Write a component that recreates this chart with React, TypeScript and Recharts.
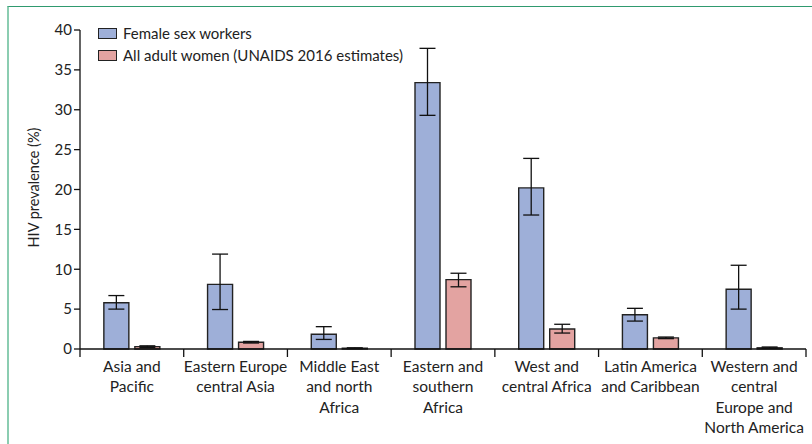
import React from 'react';
import { BarChart, Bar, XAxis, YAxis, ErrorBar } from 'recharts';

const categories = [
  'Asia and\nPacific',
  'Eastern Europe\ncentral Asia',
  'Middle East\nand north\nAfrica',
  'Eastern and\nsouthern\nAfrica',
  'West and\ncentral Africa',
  'Latin America\nand Caribbean',
  'Western and\ncentral\nEurope and\nNorth America',
];

const fswPrevalence = [5.8, 8.1, 1.85, 33.4, 20.2, 4.3, 7.5];
const fswLower = [5.0, 4.95, 1.2, 29.3, 16.8, 3.5, 5.0];
const fswUpper = [6.7, 11.9, 2.8, 37.7, 23.9, 5.1, 10.5];

const womenPrevalence = [0.3, 0.85, 0.1, 8.7, 2.5, 1.4, 0.15];
const womenLower = [0.2, 0.75, 0.05, 7.8, 2.0, 1.3, 0.1];
const womenUpper = [0.4, 0.95, 0.15, 9.5, 3.1, 1.5, 0.25];

const yTicks = [0, 5, 10, 15, 20, 25, 30, 35, 40];

const seriesNames = ['Female sex workers', 'All adult women (UNAIDS 2016 estimates)'];
const colors = ['#9eafd8', '#e3a3a1'];

const FONT = 'Lato, "Open Sans", sans-serif';
const TEXT = '#222';

const chartData = categories.map((name, i) => ({
  name,
  fsw: fswPrevalence[i],
  fswErr: [fswPrevalence[i] - fswLower[i], fswUpper[i] - fswPrevalence[i]],
  women: womenPrevalence[i],
  womenErr: [womenPrevalence[i] - womenLower[i], womenUpper[i] - womenPrevalence[i]],
}));

const WIDTH = 812;
const HEIGHT = 444;
const MARGIN = { top: 30, right: 6, bottom: 15, left: 0 };
const Y_WIDTH = 80;
const BAND = (WIDTH - MARGIN.left - MARGIN.right - Y_WIDTH) / categories.length;

function CategoryTick(props: any) {
  const { x, y, payload, index } = props;
  const lines = String(payload.value).split('\n');
  const left = x - BAND / 2;
  const right = x + BAND / 2;
  const axisY = y - 8;
  return (
    <g>
      <line x1={left} x2={left} y1={axisY} y2={axisY + 8} stroke="#111" strokeWidth={1.3} />
      {index === categories.length - 1 && (
        <line x1={right} x2={right} y1={axisY} y2={axisY + 8} stroke="#111" strokeWidth={1.3} />
      )}
      <text x={x} y={axisY + 18} textAnchor="middle" fill={TEXT} fontSize={15.5} fontFamily={FONT}>
        {lines.map((l, i) => (
          <tspan key={i} x={x} dy={i === 0 ? 5 : 20.3}>
            {l}
          </tspan>
        ))}
      </text>
    </g>
  );
}

function LegendBox() {
  return (
    <div
      style={{
        position: 'absolute',
        left: 98,
        top: 22,
        fontFamily: FONT,
        fontSize: 15,
        color: TEXT,
        lineHeight: '22px',
        zIndex: 2,
      }}
    >
      {seriesNames.map((n, i) => (
        <div key={n} style={{ display: 'flex', alignItems: 'center' }}>
          <span
            style={{
              display: 'inline-block',
              width: 17,
              height: 9,
              background: colors[i],
              border: '1.3px solid #222',
              marginRight: 6,
            }}
          />
          {n}
        </div>
      ))}
    </div>
  );
}

function YLabel(props: any) {
  const { viewBox } = props;
  const cx = viewBox.x + 33;
  const cy = viewBox.y + viewBox.height / 2 - 2;
  return (
    <text
      x={cx}
      y={cy}
      transform={`rotate(-90, ${cx}, ${cy})`}
      textAnchor="middle"
      dominantBaseline="central"
      fill={TEXT}
      fontSize={14.5}
      fontFamily={FONT}
    >
      HIV prevalence (%)
    </text>
  );
}

export default function App() {
  return (
    <div
      style={{
        position: 'absolute',
        left: 0,
        top: 0,
        width: WIDTH,
        height: HEIGHT,
        background: '#fff',
      }}
    >
      <div
        style={{
          position: 'absolute',
          left: 7,
          top: 6,
          right: 0,
          bottom: 0,
          borderTop: '1.5px solid #2f9a6f',
          borderLeft: '2px solid #8bcdb1',
        }}
      />
      <BarChart
        width={WIDTH}
        height={HEIGHT}
        data={chartData}
        margin={MARGIN}
        barCategoryGap="23%"
        barGap={6}
        style={{ position: 'absolute', left: 0, top: 0 }}
      >
        <XAxis
          dataKey="name"
          interval={0}
          height={80}
          tickLine={false}
          axisLine={{ stroke: '#111', strokeWidth: 1.3 }}
          tick={<CategoryTick />}
        />
        <YAxis
          width={Y_WIDTH}
          domain={[0, 40]}
          ticks={yTicks}
          interval={0}
          tickSize={6}
          tickLine={{ stroke: '#111', strokeWidth: 1.3 }}
          axisLine={{ stroke: '#111', strokeWidth: 1.3 }}
          tick={{ fill: TEXT, fontSize: 15, fontFamily: FONT }}
          label={<YLabel />}
        />
        <Bar
          dataKey="fsw"
          name={seriesNames[0]}
          fill={colors[0]}
          stroke="#222"
          strokeWidth={1.4}
          isAnimationActive={false}
        >
          <ErrorBar dataKey="fswErr" width={8} stroke="#111" strokeWidth={1.3} />
        </Bar>
        <Bar
          dataKey="women"
          name={seriesNames[1]}
          fill={colors[1]}
          stroke="#222"
          strokeWidth={1.4}
          isAnimationActive={false}
        >
          <ErrorBar dataKey="womenErr" width={8} stroke="#111" strokeWidth={1.3} />
        </Bar>
      </BarChart>
      <LegendBox />
    </div>
  );
}
